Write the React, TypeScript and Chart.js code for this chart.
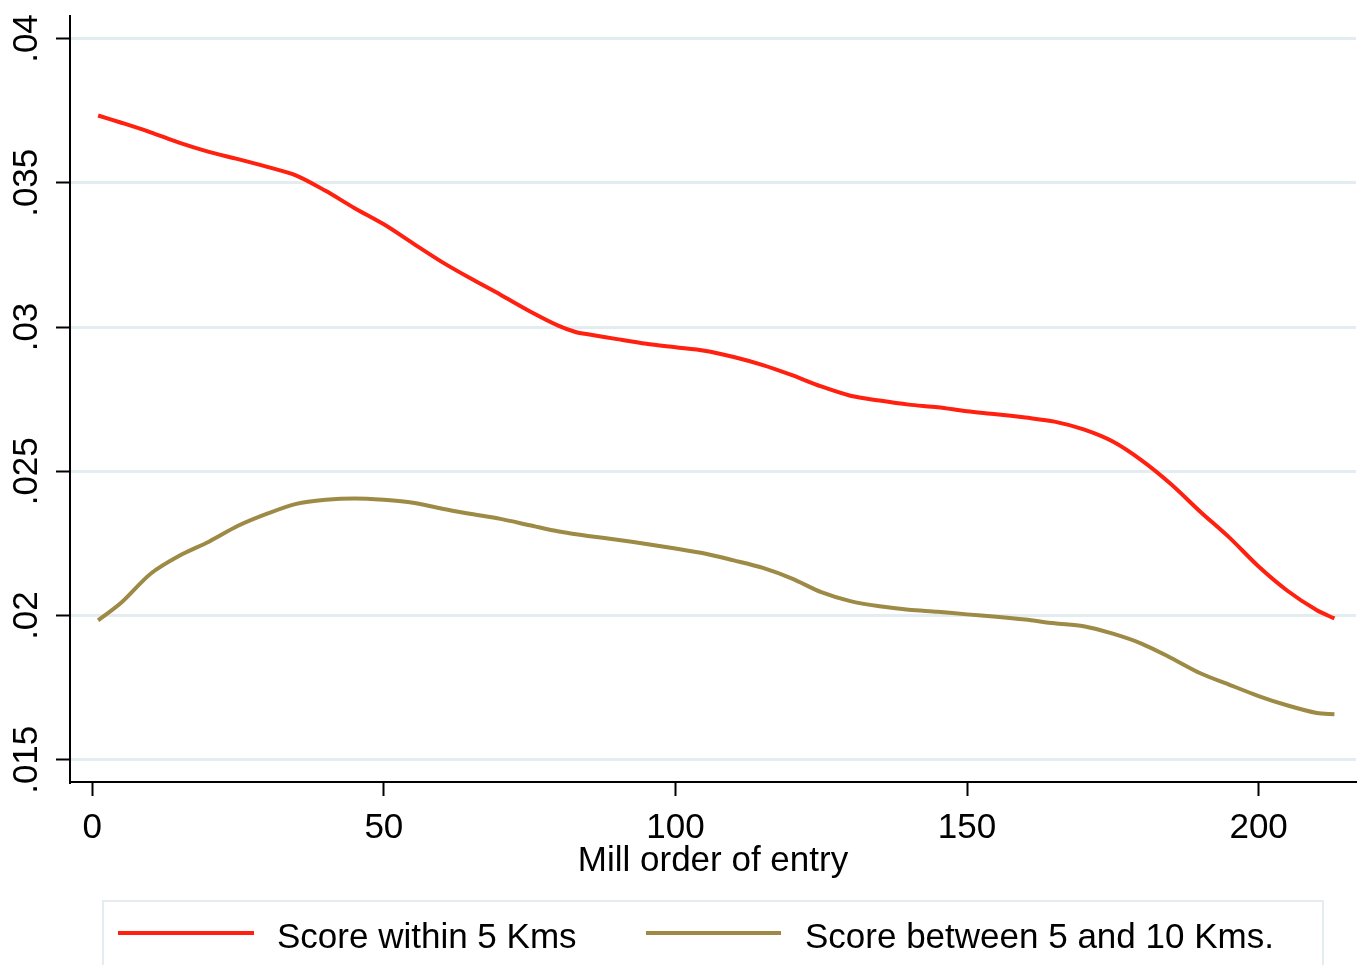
import React, { useEffect, useRef } from 'react';
import { Chart, registerables } from 'chart.js';

Chart.register(...registerables);

// x positions (mill order of entry) where the smoothed curves are read
const entryOrder = [
  1, 5, 10, 15, 20, 25, 30, 35, 40, 45, 50, 55, 60, 65, 70, 75, 80, 83, 85, 90, 95, 100, 105,
  110, 115, 120, 125, 130, 135, 140, 145, 150, 155, 160, 165, 170, 175, 180, 185, 190, 195,
  200, 205, 210, 213,
];

const scoreWithin5 = [
  0.03733, 0.03708, 0.03675, 0.03638, 0.03607, 0.03582, 0.03555, 0.03525, 0.03472, 0.03412,
  0.03356, 0.0329, 0.03225, 0.03167, 0.03112, 0.03055, 0.03004, 0.02982, 0.02975, 0.02958,
  0.02942, 0.0293, 0.02918, 0.02896, 0.02868, 0.02833, 0.02794, 0.02762, 0.02745, 0.02731,
  0.02722, 0.02708, 0.02698, 0.02686, 0.02672, 0.02645, 0.02603, 0.02537, 0.02455, 0.0236,
  0.0227, 0.0217, 0.02085, 0.02018, 0.0199,
];

const scoreBetween5and10 = [
  0.01983, 0.02045, 0.02145, 0.02208, 0.02256, 0.02311, 0.02353, 0.02387, 0.02401, 0.02406,
  0.02401, 0.02391, 0.0237, 0.02352, 0.02335, 0.02313, 0.02291, 0.02282, 0.02276, 0.02263,
  0.02248, 0.02232, 0.02215, 0.02191, 0.02165, 0.02128, 0.02081, 0.0205, 0.02032, 0.0202,
  0.02013, 0.02004, 0.01996, 0.01986, 0.01973, 0.01963, 0.01937, 0.01902, 0.01853, 0.018,
  0.0176, 0.01721, 0.01688, 0.01662, 0.01658,
];

const seriesLabels = ['Score within 5 Kms', 'Score between 5 and 10 Kms.'];
const seriesColors = ['#ff2010', '#9c8a45'];

const xTicks = [0, 50, 100, 150, 200];
const yTicks = [0.015, 0.02, 0.025, 0.03, 0.035, 0.04];
const yTickLabels = ['.015', '.02', '.025', '.03', '.035', '.04'];

const FONT = '"Liberation Sans", Arial, sans-serif';

const App: React.FC = () => {
  const canvasRef = useRef<HTMLCanvasElement | null>(null);

  useEffect(() => {
    if (!canvasRef.current) return;
    const ctx = canvasRef.current.getContext('2d');
    if (!ctx) return;

    const toPoints = (ys: number[]) => entryOrder.map((x, i) => ({ x, y: ys[i] }));

    const chart = new Chart(ctx, {
      type: 'line',
      data: {
        datasets: [
          {
            label: seriesLabels[0],
            data: toPoints(scoreWithin5),
            borderColor: seriesColors[0],
            backgroundColor: seriesColors[0],
            borderWidth: 4,
            pointRadius: 0,
            tension: 0.3,
          },
          {
            label: seriesLabels[1],
            data: toPoints(scoreBetween5and10),
            borderColor: seriesColors[1],
            backgroundColor: seriesColors[1],
            borderWidth: 4,
            pointRadius: 0,
            tension: 0.3,
          },
        ],
      },
      options: {
        animation: false,
        responsive: true,
        maintainAspectRatio: false,
        layout: { padding: { top: 13, right: 11, bottom: 83, left: 0 } },
        plugins: {
          legend: { display: false },
          tooltip: { enabled: false },
        },
        scales: {
          x: {
            type: 'linear',
            min: -3.82,
            max: 216.7,
            afterBuildTicks: (scale: any) => {
              scale.ticks = xTicks.map((v) => ({ value: v }));
            },
            afterFit: (scale: any) => {
              scale.height = 100;
            },
            border: { display: true, color: '#000', width: 2 },
            grid: {
              drawOnChartArea: false,
              drawTicks: true,
              tickLength: 14,
              tickColor: '#000',
              tickWidth: 2,
            },
            ticks: {
              color: '#000',
              font: { family: FONT, size: 35 },
              padding: 11,
              maxRotation: 0,
              autoSkip: false,
              callback: (v: any) => String(v),
            },
            title: {
              display: true,
              text: 'Mill order of entry',
              color: '#000',
              font: { family: FONT, size: 35 },
              padding: 0,
            },
          },
          y: {
            type: 'linear',
            min: 0.01423,
            max: 0.04078,
            afterBuildTicks: (scale: any) => {
              scale.ticks = yTicks.map((v) => ({ value: v }));
            },
            afterFit: (scale: any) => {
              scale.width = 70;
            },
            border: { display: true, color: '#000', width: 2 },
            grid: {
              color: '#e3ecef',
              lineWidth: 3,
              drawTicks: true,
              tickLength: 14,
              tickColor: '#000',
              tickWidth: 2,
            },
            ticks: {
              color: '#000',
              font: { family: FONT, size: 35 },
              minRotation: 90,
              maxRotation: 90,
              crossAlign: 'center',
              padding: -5,
              autoSkip: false,
              callback: (v: any) => yTickLabels[yTicks.indexOf(Number(v))] ?? '',
            },
          },
        },
      },
    });

    return () => {
      chart.destroy();
    };
  }, []);

  const legendText: React.CSSProperties = {
    position: 'absolute',
    top: 918,
    fontFamily: FONT,
    fontSize: 35,
    lineHeight: '35px',
    color: '#000',
    whiteSpace: 'nowrap',
  };

  return (
    <div style={{ position: 'absolute', left: 0, top: 0, width: 1367, height: 965, overflow: 'hidden', background: '#fff' }}>
      <div style={{ position: 'absolute', left: 0, top: 0, width: 1367, height: 965 }}>
        <canvas ref={canvasRef} />
      </div>
      <div
        style={{
          position: 'absolute',
          left: 102,
          top: 900,
          width: 1218,
          height: 90,
          border: '2px solid #e3ecef',
        }}
      />
      <div style={{ position: 'absolute', left: 118, top: 931, width: 136, height: 4, background: seriesColors[0] }} />
      <div style={{ ...legendText, left: 277 }}>{seriesLabels[0]}</div>
      <div style={{ position: 'absolute', left: 646, top: 931, width: 135, height: 4, background: seriesColors[1] }} />
      <div style={{ ...legendText, left: 805 }}>{seriesLabels[1]}</div>
    </div>
  );
};

export default App;
